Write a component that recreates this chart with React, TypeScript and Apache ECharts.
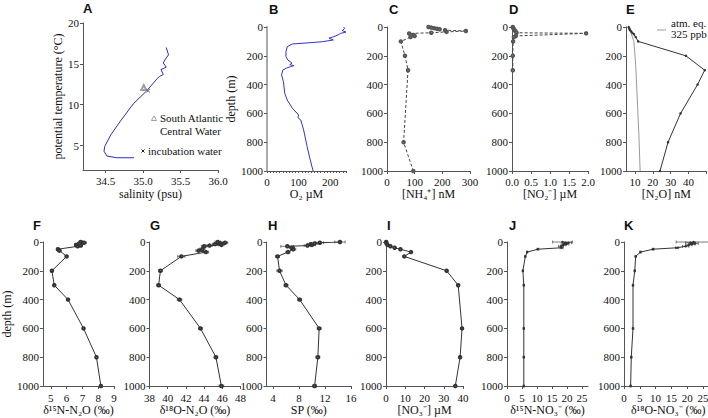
import React, { useEffect, useRef } from "react";
import * as echarts from "echarts";

// A: potential temperature vs salinity
const salinity = [35.31, 35.34, 35.3, 35.27, 35.31, 35.24, 35.27, 35.22, 35.19, 35.05, 34.87, 34.7, 34.57, 34.49, 34.48, 34.52, 34.65, 34.88];
const potTemp = [17.0, 16.1, 15.6, 15.1, 14.6, 14.3, 13.7, 13.45, 13.2, 11.7, 10.1, 8.0, 6.3, 4.9, 4.3, 3.7, 3.5, 3.5];
const sacwPoint = [35.01, 12.1];
const incubationPoint = [35.07, 11.7];

// B: oxygen
const o2Depth = [0, 10, 25, 35, 45, 55, 70, 78, 90, 102, 110, 118, 137, 170, 206, 229, 250, 262, 268, 275, 285, 299, 333, 380, 459, 507, 563, 611, 630, 646, 715, 831, 924, 1000];
const o2Conc = [242, 246, 238, 250, 232, 225, 208, 196, 210, 176, 130, 80, 64, 60, 60, 66, 79, 72, 85, 75, 62, 50, 46, 52, 56, 64, 80, 100, 98, 107, 116, 127, 137, 146];

// C: ammonium
const nh4Depth = [0, 4, 8, 12, 16, 22, 28, 34, 40, 45, 55, 62, 70, 100, 200, 300, 800, 1000];
const nh4Conc = [150, 160, 170, 180, 190, 210, 285, 215, 160, 80, 96, 100, 85, 50, 65, 76, 60, 95];

// D: nitrite
const no2Depth = [0, 10, 20, 30, 40, 44, 62, 70, 100, 200, 300];
const no2Conc = [0.02, 0.04, 0.06, 0.09, 0.12, 1.95, 0.1, 0.05, 0.03, 0.02, 0.02];

// E: nitrous oxide and atmospheric equilibrium
const n2oDepth = [0, 10, 20, 30, 40, 50, 70, 100, 200, 300, 400, 600, 800, 1000];
const n2oConc = [6.5, 6.8, 7.2, 7.8, 8.5, 9.4, 10.4, 11.8, 38.5, 49.0, 45.0, 35.5, 28.5, 24.0];
const eqDepth = [0, 30, 100, 260, 500, 750, 1000];
const eqConc = [6.6, 7.5, 9.4, 10.4, 11.3, 12.2, 12.9];

// F: d15N-N2O
const fDepth = [0, 5, 10, 20, 25, 30, 50, 60, 100, 200, 300, 400, 600, 800, 1000];
const fVal = [6.9, 7.1, 6.8, 6.6, 6.9, 6.7, 5.45, 5.55, 6.0, 5.07, 5.22, 6.09, 7.07, 7.89, 8.17];
const fErr = [0.1, 0.15, 0.1, 0.1, 0.1, 0.1, 0.08, 0.08, 0.05, 0.08, 0.06, 0.05, 0.05, 0.06, 0.05];

// G: d18O-N2O
const gDepth = [0, 5, 10, 15, 20, 25, 30, 50, 60, 70, 100, 200, 300, 400, 600, 800, 1000];
const gVal = [45.5, 46.3, 45.8, 45.2, 45.9, 44.6, 44.0, 43.8, 43.4, 44.2, 41.5, 39.2, 39.0, 41.3, 43.6, 45.3, 45.9];
const gErr = [0.3, 0.3, 0.3, 0.3, 0.3, 0.3, 0.3, 0.3, 0.3, 0.3, 0.4, 0.2, 0.2, 0.25, 0.2, 0.2, 0.25];

// H: site preference
const hDepth = [0, 5, 10, 15, 20, 25, 30, 40, 50, 70, 100, 200, 300, 400, 600, 800, 1000];
const hVal = [14.3, 11.2, 10.4, 9.8, 10.0, 9.3, 6.2, 6.9, 7.1, 6.3, 4.7, 5.0, 6.0, 8.1, 11.1, 10.9, 10.4];
const hErr = [0.8, 0.6, 0.5, 0.5, 0.5, 0.5, 1.0, 0.4, 0.4, 0.3, 0.3, 0.4, 0.3, 0.3, 0.3, 0.3, 0.3];

// I: nitrate
const iDepth = [0, 10, 20, 30, 40, 50, 70, 100, 200, 300, 600, 800, 1000];
const iVal = [0.1, 0.3, 0.8, 2.3, 4.5, 7.5, 13.0, 9.5, 31.5, 37.5, 39.5, 38.5, 36.0];

// J, K: nitrate isotopes
const jkDepth = [0, 5, 10, 15, 20, 30, 40, 50, 70, 100, 200, 300, 600, 800, 1000];
const jVal = [18.5, 20.5, 19.2, 19.8, 18.8, 18.0, 18.2, 10.3, 6.7, 6.1, 5.3, 5.6, 5.6, 5.6, 5.6];
const jErr = [3.3, 1, 0.8, 0.8, 0.8, 0.8, 0.5, 0.3, 0.2, 0.2, 0.2, 0.2, 0.2, 0.2, 0.2];
const kVal = [22.0, 21.0, 22.5, 21.5, 20.5, 19.5, 16.8, 9.2, 5.2, 3.7, 3.4, 2.85, 2.85, 2.3, 2.1];
const kErr = [5.5, 1.5, 1, 1, 1, 1, 0.5, 0.3, 0.2, 0.2, 0.2, 0.2, 0.2, 0.2, 0.2];

const depthTicks = [0, 200, 400, 600, 800, 1000];

const SERIF = "Liberation Serif, serif";
const AXIS_COLOR = "#555";
const TEXT_COLOR = "#111";
const LABEL_SIZE = 11;

// left, top, width, height of each panel's plot area
const grids = [
  [83, 23, 135, 147],
  [267, 27, 79, 144],
  [387, 27, 83, 144],
  [512, 27, 76, 144],
  [626, 27, 80.5, 144],
  [33, 242, 81, 144],
  [149.5, 242, 91, 144],
  [266.5, 242, 84.5, 144],
  [386, 242, 77, 144],
  [507, 242, 81, 144],
  [624, 242, 88.5, 144],
];

const letters = [
  ["A", 83, 2], ["B", 269, 3], ["C", 389, 3], ["D", 509, 3], ["E", 626, 3],
  ["F", 33, 219], ["G", 150, 219], ["H", 268, 219], ["I", 387, 219], ["J", 509, 219], ["K", 624, 219],
];

const pairs = (xs: number[], ys: number[]) => xs.map((x, i) => [x, ys[i]]);
const triples = (xs: number[], ys: number[], es: number[]) => xs.map((x, i) => [x, ys[i], es[i]]);

const plain = (v: number) => String(v);

const labelStyle = (extra: any) => ({
  fontFamily: SERIF,
  fontSize: LABEL_SIZE,
  color: TEXT_COLOR,
  margin: 4,
  ...extra,
});

const makeXAxis = (i: number, cfg: any) => ({
  gridIndex: i,
  type: "value",
  position: "bottom",
  min: cfg.min,
  max: cfg.max,
  interval: cfg.interval,
  name: cfg.name,
  nameLocation: "middle",
  nameGap: i === 0 ? 18 : 16,
  nameTextStyle: { fontFamily: SERIF, fontSize: 12, color: TEXT_COLOR },
  axisLine: { onZero: false, lineStyle: { color: AXIS_COLOR, width: 1 } },
  axisTick: {
    length: cfg.tickLength || 3,
    lineStyle: { color: AXIS_COLOR },
    ...(cfg.tickValues ? { customValues: cfg.tickValues } : {}),
  },
  axisLabel: labelStyle({
    margin: i < 5 ? 5 : 6,
    formatter: cfg.decimals ? (v: number) => v.toFixed(cfg.decimals) : plain,
    ...(cfg.labelValues ? { customValues: cfg.labelValues } : {}),
  }),
  splitLine: { show: false },
});

const makeDepthAxis = (i: number, name?: string, lineStyle?: any) => ({
  gridIndex: i,
  type: "value",
  inverse: true,
  min: 0,
  max: 1000,
  interval: 200,
  name,
  nameLocation: "middle",
  nameGap: 19,
  nameTextStyle: { fontFamily: SERIF, fontSize: 12, color: TEXT_COLOR },
  axisLine: { onZero: false, lineStyle: lineStyle || { color: AXIS_COLOR, width: 1 } },
  axisTick: { length: 3, lineStyle: { color: AXIS_COLOR }, customValues: depthTicks },
  axisLabel: labelStyle({ customValues: depthTicks, formatter: plain }),
  splitLine: { show: false },
});

const renderErrorBar = (params: any, api: any) => {
  const x = api.value(0);
  const y = api.value(1);
  const e = api.value(2);
  const l = api.coord([x - e, y]);
  const r = api.coord([x + e, y]);
  const style = { stroke: "#444", lineWidth: 0.7 };
  return {
    type: "group",
    children: [
      { type: "line", shape: { x1: l[0], y1: l[1], x2: r[0], y2: r[1] }, style },
      { type: "line", shape: { x1: l[0], y1: l[1] - 1.5, x2: l[0], y2: l[1] + 1.5 }, style },
      { type: "line", shape: { x1: r[0], y1: r[1] - 1.5, x2: r[0], y2: r[1] + 1.5 }, style },
    ],
  };
};

const profile = (i: number, data: number[][], extra: any = {}) => ({
  type: "line",
  xAxisIndex: i,
  yAxisIndex: i,
  data,
  symbol: "emptyCircle",
  symbolSize: 2.5,
  showAllSymbol: true,
  itemStyle: { color: "#333", borderWidth: 0.6 },
  lineStyle: { color: "#333", width: 1 },
  ...extra,
});

const errorBars = (i: number, data: number[][]) => ({
  type: "custom",
  xAxisIndex: i,
  yAxisIndex: i,
  data,
  encode: { x: 0, y: 1 },
  renderItem: renderErrorBar,
  z: 1,
});

const crossPath = "path://M0,1L1,0L5,4L9,0L10,1L6,5L10,9L9,10L5,6L1,10L0,9L4,5Z";

const App: React.FC = () => {
  const chartRef = useRef<HTMLDivElement>(null);

  useEffect(() => {
    const chartDom = chartRef.current;
    if (!chartDom) return;
    const myChart = echarts.init(chartDom, undefined, { renderer: "svg" });

    const xAxes = [
      makeXAxis(0, { min: 34.2, max: 36, name: "salinity (psu)", tickValues: [34.5, 35, 35.5, 36], labelValues: [34.5, 35, 35.5, 36], decimals: 1 }),
      makeXAxis(1, { min: 0, max: 250, name: "O₂ µM", tickLength: 2, tickValues: Array.from({ length: 26 }, (_, k) => k * 10), labelValues: [0, 100, 200] }),
      makeXAxis(2, { min: 0, max: 300, interval: 100, name: "[NH₄⁺] nM" }),
      makeXAxis(3, { min: 0, max: 2, interval: 0.5, name: "[NO₂⁻] µM", decimals: 1 }),
      makeXAxis(4, { min: 5, max: 50, name: "[N₂O] nM", tickValues: [10, 20, 30, 40, 50], labelValues: [10, 20, 30, 40] }),
      makeXAxis(5, { min: 4.5, max: 9, name: "δ¹⁵N-N₂O (‰)", tickValues: [5, 6, 7, 8, 9], labelValues: [5, 6, 7, 8, 9] }),
      makeXAxis(6, { min: 38, max: 48, interval: 2, name: "δ¹⁸O-N₂O (‰)" }),
      makeXAxis(7, { min: 3, max: 16, name: "SP (‰)", tickValues: [4, 8, 12, 16], labelValues: [4, 8, 12, 16] }),
      makeXAxis(8, { min: 0, max: 40, interval: 10, name: "[NO₃⁻] µM" }),
      makeXAxis(9, { min: 0, max: 27, name: "δ¹⁵N-NO₃⁻ (‰)", tickValues: [0, 5, 10, 15, 20, 25], labelValues: [0, 5, 10, 15, 20, 25] }),
      makeXAxis(10, { min: 0, max: 28, name: "δ¹⁸O-NO₃⁻ (‰)", tickValues: [0, 5, 10, 15, 20, 25], labelValues: [0, 5, 10, 15, 20, 25] }),
    ];

    const yAxes: any[] = [
      {
        gridIndex: 0,
        type: "value",
        min: 2,
        max: 20,
        name: "potential temperature (°C)",
        nameLocation: "middle",
        nameGap: 17,
        nameTextStyle: { fontFamily: SERIF, fontSize: 12, color: TEXT_COLOR },
        axisLine: { onZero: false, lineStyle: { color: AXIS_COLOR, width: 1 } },
        axisTick: { length: 3, lineStyle: { color: AXIS_COLOR }, customValues: [5, 10, 15, 20] },
        axisLabel: labelStyle({ customValues: [5, 10, 15, 20], formatter: plain }),
        splitLine: { show: false },
      },
      makeDepthAxis(1, "depth (m)", { color: "#aaa", width: 2 }),
      makeDepthAxis(2),
      makeDepthAxis(3),
      makeDepthAxis(4),
      makeDepthAxis(5, "depth (m)"),
      makeDepthAxis(6),
      makeDepthAxis(7),
      makeDepthAxis(8),
      makeDepthAxis(9),
      makeDepthAxis(10),
    ];

    const dashed = { lineStyle: { color: "#444", width: 1, type: [3, 2] }, itemStyle: { color: "#555", borderWidth: 0.6 } };

    const series: any[] = [
      {
        type: "line",
        xAxisIndex: 0,
        yAxisIndex: 0,
        data: pairs(salinity, potTemp),
        showSymbol: false,
        lineStyle: { color: "#2c2cc8", width: 1 },
      },
      {
        type: "scatter",
        xAxisIndex: 0,
        yAxisIndex: 0,
        data: [sacwPoint],
        symbol: "emptyTriangle",
        symbolSize: 5,
        itemStyle: { color: "#888", borderWidth: 0.7 },
        z: 5,
      },
      {
        type: "scatter",
        xAxisIndex: 0,
        yAxisIndex: 0,
        data: [incubationPoint],
        symbol: crossPath,
        symbolSize: 4,
        itemStyle: { color: "#222" },
        z: 5,
      },
      {
        type: "line",
        xAxisIndex: 1,
        yAxisIndex: 1,
        data: pairs(o2Conc, o2Depth),
        showSymbol: false,
        lineStyle: { color: "#3333cc", width: 1 },
      },
      profile(2, pairs(nh4Conc, nh4Depth), dashed),
      profile(3, pairs(no2Conc, no2Depth), dashed),
      {
        type: "line",
        xAxisIndex: 4,
        yAxisIndex: 4,
        data: pairs(eqConc, eqDepth),
        showSymbol: false,
        lineStyle: { color: "#999", width: 1 },
      },
      profile(4, pairs(n2oConc, n2oDepth), { symbol: "circle" }),
      errorBars(5, triples(fVal, fDepth, fErr)),
      profile(5, pairs(fVal, fDepth)),
      errorBars(6, triples(gVal, gDepth, gErr)),
      profile(6, pairs(gVal, gDepth)),
      errorBars(7, triples(hVal, hDepth, hErr)),
      profile(7, pairs(hVal, hDepth)),
      profile(8, pairs(iVal, iDepth)),
      errorBars(9, triples(jVal, jkDepth, jErr)),
      profile(9, pairs(jVal, jkDepth), { symbol: "circle" }),
      errorBars(10, triples(kVal, jkDepth, kErr)),
      profile(10, pairs(kVal, jkDepth), { symbol: "circle" }),
    ];

    const legendFont = { fontFamily: SERIF, fontSize: 11, fill: TEXT_COLOR };
    const graphic: any[] = [
      ...letters.map(([t, x, y]) => ({
        type: "text",
        x,
        y,
        style: {
          text: t,
          fontFamily: "Liberation Sans",
          fontWeight: "bold",
          fontSize: 13,
          fill: "#111",
          textVerticalAlign: "top",
          verticalAlign: "top",
        },
      })),
      // legend of A
      {
        type: "polygon",
        shape: { points: [[151.5, 120.5], [156.5, 120.5], [154, 116]] },
        style: { fill: "none", stroke: "#888", lineWidth: 0.8 },
      },
      { type: "text", x: 160, y: 118, style: { ...legendFont, text: "South Atlantic", textVerticalAlign: "middle", verticalAlign: "middle" } },
      { type: "text", x: 160, y: 131, style: { ...legendFont, text: "Central Water", textVerticalAlign: "middle", verticalAlign: "middle" } },
      { type: "line", shape: { x1: 141.5, y1: 149.5, x2: 144.5, y2: 152.5 }, style: { stroke: "#222", lineWidth: 1 } },
      { type: "line", shape: { x1: 144.5, y1: 149.5, x2: 141.5, y2: 152.5 }, style: { stroke: "#222", lineWidth: 1 } },
      { type: "text", x: 148, y: 151, style: { ...legendFont, text: "incubation water", textVerticalAlign: "middle", verticalAlign: "middle" } },
      // legend of E
      { type: "line", shape: { x1: 657, y1: 30, x2: 666, y2: 30 }, style: { stroke: "#999", lineWidth: 1 } },
      { type: "text", x: 671, y: 23, style: { ...legendFont, text: "atm. eq.", textVerticalAlign: "middle", verticalAlign: "middle" } },
      { type: "text", x: 671, y: 34, style: { ...legendFont, text: "325 ppb", textVerticalAlign: "middle", verticalAlign: "middle" } },
    ];

    const option: any = {
      animation: false,
      backgroundColor: "#fff",
      textStyle: { fontFamily: SERIF },
      grid: grids.map(([left, top, width, height]) => ({ left, top, width, height })),
      xAxis: xAxes,
      yAxis: yAxes,
      series,
      graphic,
    };

    myChart.setOption(option);

    return () => {
      myChart.dispose();
    };
  }, []);

  return (
    <div
      style={{
        position: "absolute",
        left: 0,
        top: 0,
        width: "708px",
        height: "418px",
        overflow: "hidden",
        background: "#fff",
      }}
    >
      <div ref={chartRef} style={{ width: "720px", height: "418px" }} />
    </div>
  );
};

export default App;
